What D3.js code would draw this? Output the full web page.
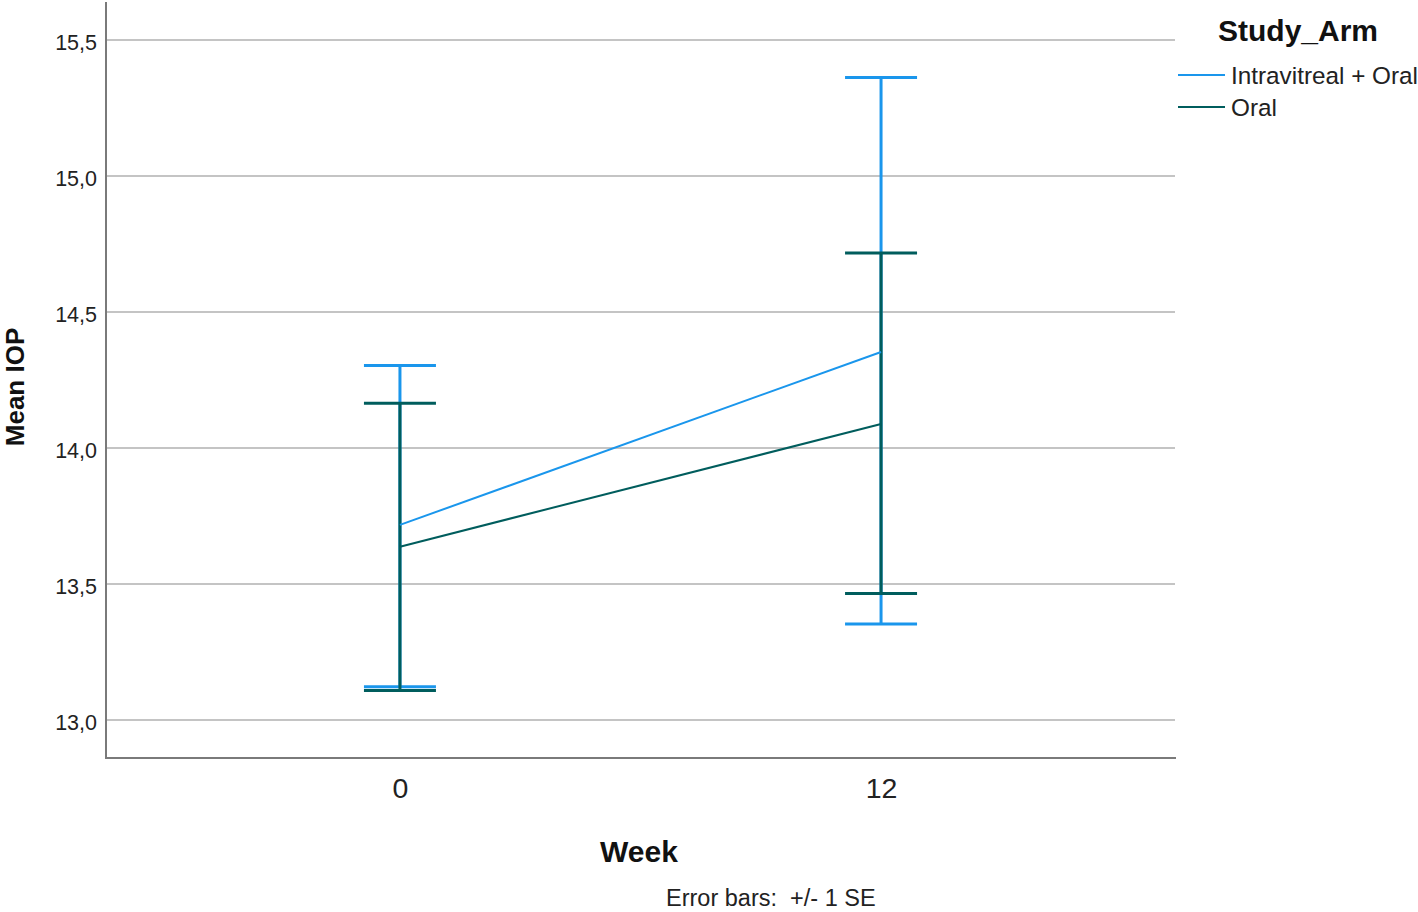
<!DOCTYPE html>
<html>
<head>
<meta charset="utf-8">
<script src="https://cdn.jsdelivr.net/npm/d3@7"></script>
<style>
  html, body { margin: 0; padding: 0; background: #ffffff; }
  svg { display: block; }
</style>
</head>
<body>
<svg id="chart" width="1418" height="912"></svg>
<script>
// ---- data ----
const weeks = ["0", "12"];
const seriesNames = ["Intravitreal + Oral", "Oral"];
const ivMean  = [13.717, 14.353];
const ivUpper = [14.303, 15.362];
const ivLower = [13.122, 13.353];
const oralMean  = [13.637, 14.088];
const oralUpper = [14.164, 14.717];
const oralLower = [13.108, 13.465];
const yTicks = [13.0, 13.5, 14.0, 14.5, 15.0, 15.5];
const yDomain = [12.86, 15.647];

const colors = ["#1a96ec", "#005d5d"];

const series = [
  { name: seriesNames[0], mean: ivMean, upper: ivUpper, lower: ivLower, color: colors[0] },
  { name: seriesNames[1], mean: oralMean, upper: oralUpper, lower: oralLower, color: colors[1] }
];

// ---- layout ----
const plot = { left: 106, right: 1175, top: 0, bottom: 758 };
const svg = d3.select("#chart");
const font = "'Liberation Sans', Arial, sans-serif";

const x = d3.scalePoint().domain(weeks).range([plot.left, plot.right]).padding(0.611);
const y = d3.scaleLinear().domain(yDomain).range([plot.bottom, plot.top]);
const fmt = d => d3.format(".1f")(d).replace(".", ",");

// gridlines
svg.append("g").selectAll("line").data(yTicks).join("line")
  .attr("x1", plot.left).attr("x2", plot.right)
  .attr("y1", d => y(d)).attr("y2", d => y(d))
  .attr("stroke", "#c4c4c4").attr("stroke-width", 2);

// y axis
const yAxis = svg.append("g")
  .attr("transform", `translate(${plot.left},0)`)
  .call(d3.axisLeft(y).tickValues(yTicks).tickFormat(fmt).tickSize(0).tickPadding(9));
yAxis.select(".domain").remove();
yAxis.selectAll("text")
  .attr("font-family", font).attr("font-size", 21.5).attr("fill", "#222").attr("dy", "0.45em");

// x axis
const xAxis = svg.append("g")
  .attr("transform", `translate(0,${plot.bottom})`)
  .call(d3.axisBottom(x).tickSize(0).tickPadding(0));
xAxis.select(".domain").remove();
xAxis.selectAll("text")
  .attr("font-family", font).attr("font-size", 28.5).attr("fill", "#222")
  .attr("dy", 0).attr("y", 40);

// axis lines
svg.append("line")
  .attr("x1", plot.left).attr("x2", plot.left).attr("y1", 2).attr("y2", plot.bottom + 1)
  .attr("stroke", "#7a7a7a").attr("stroke-width", 2);
svg.append("line")
  .attr("x1", plot.left).attr("x2", plot.right + 1).attr("y1", plot.bottom).attr("y2", plot.bottom)
  .attr("stroke", "#7a7a7a").attr("stroke-width", 2);

// error bars
const capHalf = 36;
series.forEach(s => {
  const g = svg.append("g");
  weeks.forEach((w, i) => {
    g.append("line")
      .attr("x1", x(w)).attr("x2", x(w))
      .attr("y1", y(s.upper[i])).attr("y2", y(s.lower[i]))
      .attr("stroke", s.color).attr("stroke-width", 3);
    [s.upper[i], s.lower[i]].forEach(v => {
      g.append("line")
        .attr("x1", x(w) - capHalf).attr("x2", x(w) + capHalf)
        .attr("y1", y(v)).attr("y2", y(v))
        .attr("stroke", s.color).attr("stroke-width", 3);
    });
  });
});

// mean lines
const line = d3.line().x((d, i) => x(weeks[i])).y(d => y(d));
series.forEach(s => {
  svg.append("path").datum(s.mean)
    .attr("d", line).attr("fill", "none")
    .attr("stroke", s.color).attr("stroke-width", 2);
});

// axis titles
svg.append("text")
  .attr("transform", "translate(24,387) rotate(-90)")
  .attr("text-anchor", "middle")
  .attr("font-family", font).attr("font-weight", "bold").attr("font-size", 26).attr("fill", "#111")
  .text("Mean IOP");

svg.append("text")
  .attr("x", 639).attr("y", 862).attr("text-anchor", "middle")
  .attr("font-family", font).attr("font-weight", "bold").attr("font-size", 30).attr("fill", "#111")
  .text("Week");

svg.append("text")
  .attr("x", 666).attr("y", 906)
  .attr("font-family", font).attr("font-size", 23.5).attr("fill", "#222")
  .style("white-space", "pre")
  .text("Error bars:  +/- 1 SE");

// legend
svg.append("text")
  .attr("x", 1218).attr("y", 41)
  .attr("font-family", font).attr("font-weight", "bold").attr("font-size", 30).attr("fill", "#111")
  .text("Study_Arm");

series.forEach((s, i) => {
  const ly = 75 + i * 32;
  svg.append("line")
    .attr("x1", 1178).attr("x2", 1225).attr("y1", ly).attr("y2", ly)
    .attr("stroke", s.color).attr("stroke-width", 2);
  svg.append("text")
    .attr("x", 1231).attr("y", ly + 9)
    .attr("font-family", font).attr("font-size", 24.3).attr("fill", "#222")
    .text(s.name);
});
</script>
</body>
</html>
